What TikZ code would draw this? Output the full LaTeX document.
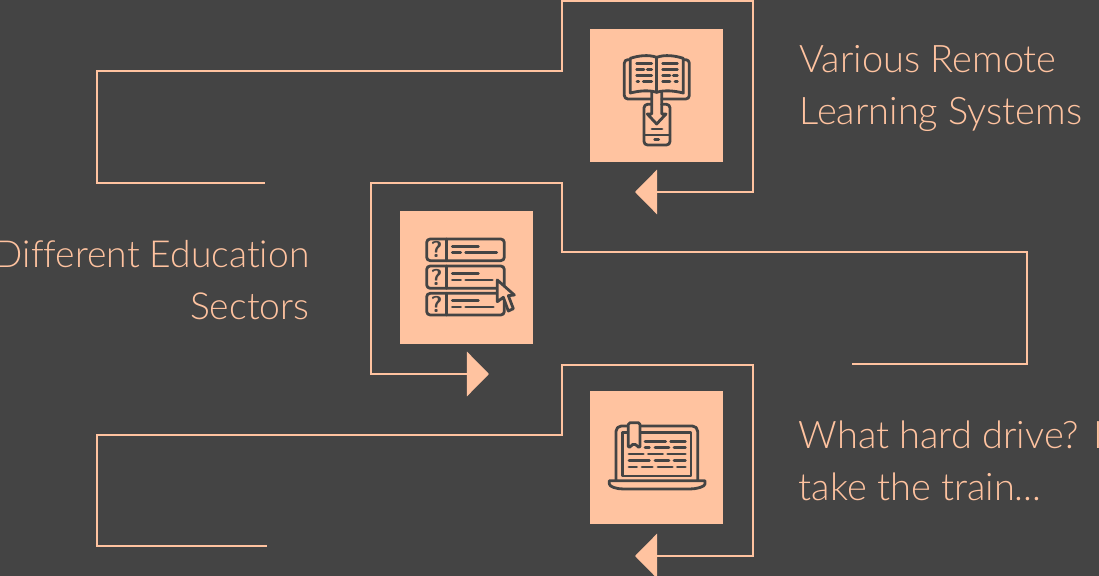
\documentclass[tikz,border=0pt]{standalone}
\usepackage{fontspec}
\setmainfont[Ligatures=NoCommon]{Lato Light}
\usetikzlibrary{arrows.meta}
\definecolor{slate}{HTML}{444444}
\definecolor{peach}{HTML}{FFC3A0}
\tikzset{
	flowline/.style={line width=0.85pt, peach, line join=miter},
	flowtip/.style={flowline, -{Triangle[width=0.44cm, length=0.22cm]}},
	card/.style={fill=peach, minimum size=1.33cm, inner sep=0pt, outer sep=0pt},
	caption/.style={peach, font=\fontsize{10.8}{15}\selectfont, inner sep=0pt},
	iconline/.style={line width=0.8pt, slate, line cap=round, line join=round},
	iconmark/.style={slate, font=\fontsize{6.5}{6.5}\sffamily\bfseries, inner sep=0pt},
	iconscope/.style={x=0.01cm/3, y=-0.01cm/3, iconline}
}
\begin{document}
\begin{tikzpicture}[x=0.01cm, y=-0.01cm]
	% Background
	\useasboundingbox (0,0) rectangle (1099,576);
	\clip (0,0) rectangle (1099,576);
	\fill[slate] (0,0) rectangle (1099,576);

	% Cards
	\node[card, anchor=north west] (remote) at (590,29) {};
	\node[card, anchor=north west] (sectors) at (400,211) {};
	\node[card, anchor=north west] (train) at (590,391) {};

	% Free ends of the lines
	\coordinate (remoteStart) at (265,183);
	\coordinate (remoteTip) at (635,192);
	\coordinate (sectorsStart) at (852,364);
	\coordinate (sectorsTip) at (489,374);
	\coordinate (trainStart) at (267,546);
	\coordinate (trainTip) at (635,556);

	% Draw lines
	\draw[flowtip] (remoteStart) -- (97,183) -- (97,71) -- (562,71) -- (562,1) -- (753,1) -- (753,192) -- (remoteTip);
	\draw[flowtip] (sectorsStart) -- (1027,364) -- (1027,252) -- (562,252) -- (562,183) -- (371,183) -- (371,374) -- (sectorsTip);
	\draw[flowtip] (trainStart) -- (97,546) -- (97,435) -- (562,435) -- (562,365) -- (753,365) -- (753,556) -- (trainTip);

	% Captions
	\node[caption, anchor=base west, align=left] (remoteText) at (799,125) {Various Remote\\Learning Systems};
	\node[caption, font=\fontsize{10.6}{15}\selectfont, anchor=base east, align=right] (sectorsText) at (310,320) {Different Education\\Sectors};
	\node[caption, anchor=base west, align=left] (trainText) at (798,501) {What hard drive? I\\take the train...};

	% Book and phone icon
	\begin{scope}[shift={(590,29)}, iconscope]
		\draw[rounded corners=1pt] (120,92) -- (103,92) -- (103,210) -- (185,210);
		\draw[rounded corners=1pt] (280,92) -- (298,92) -- (298,210) -- (215,210);
		\draw (200,190) .. controls (175,182) and (145,186) .. (121,192) -- (121,88) .. controls (145,80) and (175,76) .. (200,85) .. controls (225,76) and (255,80) .. (280,88) -- (280,192) .. controls (255,186) and (225,182) .. (200,190) -- cycle;
		\draw (200,85) -- (200,190);
		\draw (185,190) -- (185,255) -- (172,255) -- (200,285) -- (228,255) -- (215,255) -- (215,190);
		\draw[rounded corners=1pt] (185,226) -- (162,226) -- (162,348) -- (240,348) -- (240,226) -- (215,226);
		\draw (163,318) -- (239,318);
		\foreach \ya/\xa/\xb in {104/140/185, 122/140/162, 122/172/185, 140/140/185, 158/141/146, 158/160/185, 104/218/262, 122/218/262, 140/218/240, 140/250/262, 158/218/240, 158/255/262, 300/186/216, 332/194/206}
			\draw (\xa,\ya) -- (\xb,\ya);
	\end{scope}

	% Question list icon
	\begin{scope}[shift={(400,210)}, iconscope]
		\foreach \ya/\yb in {87/152, 168/235, 250/315} {
			\draw[rounded corners=1pt] (80,\ya) rectangle (313,\yb);
			\draw (140,\ya) -- (140,\yb);
			\node[iconmark] (mark\ya) at (110,{(\ya+\yb)/2}) {?};
		}
		\foreach \ya/\xa/\xb in {110/157/235, 128/157/182, 128/197/290, 191/157/235, 210/157/182, 210/197/277, 272/157/235, 291/157/182, 291/197/280}
			\draw (\xa,\ya) -- (\xb,\ya);
		\filldraw[fill=peach] (292,210) -- (292,275) -- (310,262) -- (325,303) -- (340,296) -- (325,257) -- (343,255) -- cycle;
	\end{scope}

	% Laptop icon
	\begin{scope}[shift={(590,390)}, iconscope]
		\draw[rounded corners=1.5pt] (78,270) -- (78,108) -- (115,108);
		\draw[rounded corners=1.5pt] (150,108) -- (323,108) -- (323,270);
		\draw (115,128) -- (97,128) -- (97,258) -- (303,258) -- (303,128) -- (150,128);
		\draw (58,272) -- (345,272) -- (345,282) .. controls (345,290) and (320,297) .. (300,297) -- (100,297) .. controls (80,297) and (58,290) .. (58,282) -- cycle;
		\filldraw[fill=peach, rounded corners=0.5pt] (115,175) -- (115,98) -- (150,98) -- (150,175) -- (132,160) -- cycle;
		\foreach \ya/\xa/\xb in {154/165/227, 154/242/286, 173/165/178, 173/195/237, 173/252/286, 192/117/160, 192/175/218, 192/233/286, 212/117/178, 212/195/237, 212/252/286, 231/117/140, 231/156/187, 231/204/247, 231/262/286}
			\draw (\xa,\ya) -- (\xb,\ya);
	\end{scope}
\end{tikzpicture}
\end{document}
